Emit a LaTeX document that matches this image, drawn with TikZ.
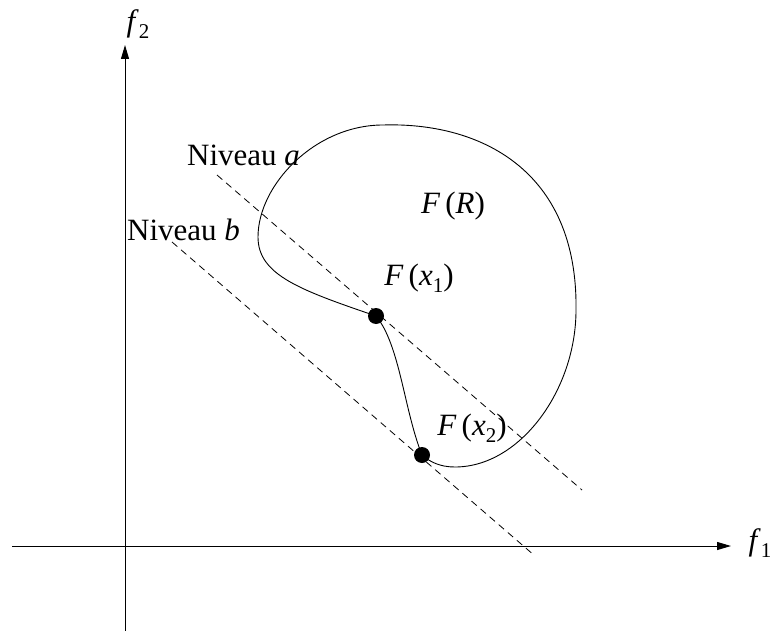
\documentclass[tikz,border=0pt]{standalone}
\usepackage{fontspec}
\setmainfont{Liberation Serif}
\usetikzlibrary{arrows.meta}
\newcommand{\mysubscr}[1]{\raisebox{-0.22em}{\fontsize{21}{21}\selectfont #1}}
\tikzset{
  lbl/.style={inner sep=0pt, font=\fontsize{31}{37}\selectfont},
  axis/.style={line width=1pt, -{Triangle[length=14pt,width=8pt]}},
  level/.style={line width=0.8pt, dash pattern=on 7pt off 5pt},
  region/.style={line width=0.9pt},
  dot/.style={circle, fill=black, minimum size=16pt, inner sep=0pt}
}
\begin{document}
\begin{tikzpicture}[x=1pt,y=-1pt]
\useasboundingbox (0,0) rectangle (773,631);
% axes
\coordinate (vb) at (125,631);
\coordinate (vt) at (125,45);
\coordinate (hl) at (12,546);
\coordinate (hr) at (731,546);
\draw[axis] (vb) -- (vt);
\draw[axis] (hl) -- (hr);
\node[lbl] (f2) at (138,24) {\textit{f}\mysubscr{2}};
\node[lbl] (f1) at (760,543) {\textit{f}\mysubscr{1}};
% level lines
\coordinate (a1) at (217,175);
\coordinate (a2) at (582,490);
\coordinate (b1) at (172,242);
\coordinate (b2) at (535,556);
\draw[level] (a1) -- (a2);
\draw[level] (b1) -- (b2);
% region curve
\coordinate (p1) at (376,316);
\coordinate (pl) at (258,237);
\coordinate (pt) at (383,125);
\coordinate (pr) at (576,310);
\coordinate (pb) at (455,467);
\coordinate (p2) at (422,455);
\draw[region] (p1) .. controls (300,290) and (258,275) .. (pl)
  .. controls (258,185) and (315,125) .. (pt)
  .. controls (480,122) and (578,170) .. (pr)
  .. controls (576,390) and (520,467) .. (pb)
  .. controls (440,467) and (430,462) .. (p2)
  .. controls (404,410) and (400,345) .. (p1);
% points
\node[dot] (x1) at (p1) {};
\node[dot] (x2) at (p2) {};
% labels
\node[lbl, anchor=base west] (na) at (187,166) {Niveau \textit{a}};
\node[lbl, anchor=base west] (nb) at (127,240) {Niveau \textit{b}};
\node[lbl] (fr) at (453,206) {\textit{F}\,(\textit{R})};
\node[lbl] (fx1) at (419,278) {\textit{F}\,(\textit{x}\mysubscr{1})};
\node[lbl] (fx2) at (472,428) {\textit{F}\,(\textit{x}\mysubscr{2})};
\end{tikzpicture}
\end{document}
